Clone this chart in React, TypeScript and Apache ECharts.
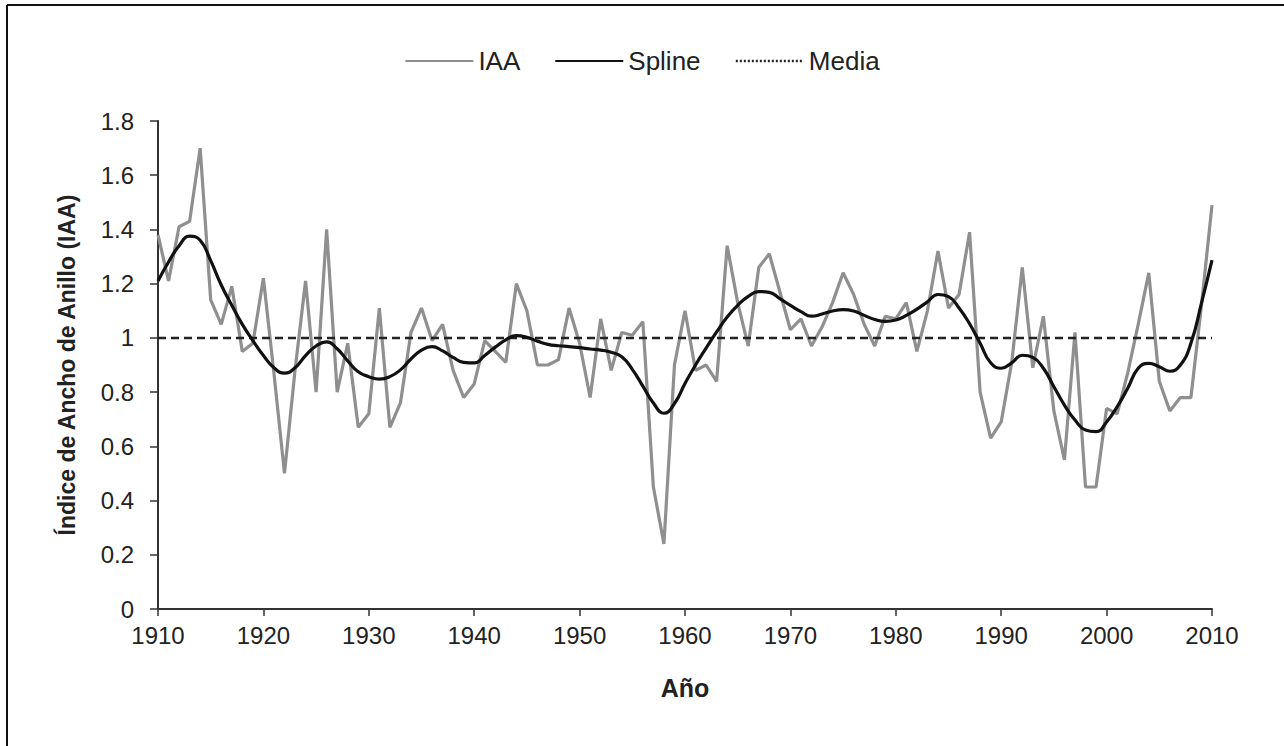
import React, { useEffect, useRef } from "react";
import * as echarts from "echarts";

const START_YEAR = 1910;
const END_YEAR = 2010;
const X_TICKS = [1910, 1920, 1930, 1940, 1950, 1960, 1970, 1980, 1990, 2000, 2010];

const IAA = [
  1.38, 1.21, 1.41, 1.43, 1.70, 1.14, 1.05, 1.19, 0.95, 0.98,
  1.22, 0.87, 0.50, 0.88, 1.21, 0.80, 1.40, 0.80, 0.98, 0.67,
  0.72, 1.11, 0.67, 0.76, 1.02, 1.11, 0.99, 1.05, 0.88, 0.78,
  0.83, 0.99, 0.95, 0.91, 1.20, 1.10, 0.90, 0.90, 0.92, 1.11,
  0.98, 0.78, 1.07, 0.88, 1.02, 1.01, 1.06, 0.45, 0.24, 0.90,
  1.10, 0.88, 0.90, 0.84, 1.34, 1.13, 0.97, 1.26, 1.31, 1.17,
  1.03, 1.07, 0.97, 1.04, 1.13, 1.24, 1.16, 1.05, 0.97, 1.08,
  1.07, 1.13, 0.95, 1.10, 1.32, 1.11, 1.16, 1.39, 0.80, 0.63,
  0.69, 0.91, 1.26, 0.89, 1.08, 0.73, 0.55, 1.02, 0.45, 0.45,
  0.74, 0.72, 0.87, 1.05, 1.24, 0.84, 0.73, 0.78, 0.78, 1.12,
  1.49,
];

const SPLINE = [
  1.21, 1.28, 1.34, 1.375, 1.36, 1.285, 1.195, 1.12, 1.05, 0.99,
  0.935, 0.89, 0.87, 0.89, 0.935, 0.97, 0.985, 0.96, 0.915, 0.875,
  0.857, 0.848, 0.857, 0.882, 0.922, 0.955, 0.968, 0.952, 0.928, 0.91,
  0.908, 0.935, 0.966, 0.993, 1.008, 1.002, 0.988, 0.976, 0.971, 0.968,
  0.964, 0.959, 0.955, 0.947, 0.93, 0.884, 0.822, 0.76, 0.722, 0.758,
  0.832, 0.9, 0.962, 1.022, 1.077, 1.12, 1.153, 1.171, 1.168, 1.145,
  1.12, 1.097, 1.08, 1.088, 1.099, 1.104, 1.099, 1.083, 1.068, 1.061,
  1.066, 1.083, 1.106, 1.133, 1.16, 1.152, 1.11, 1.052, 0.98, 0.908,
  0.888, 0.908, 0.936, 0.928, 0.888, 0.82, 0.752, 0.697, 0.66, 0.654,
  0.69, 0.746, 0.814, 0.888, 0.906, 0.894, 0.877, 0.9, 0.98, 1.128,
  1.287,
];

const MEDIA = 1;

const FONT = "Liberation Sans, Arial, sans-serif";

export default function App() {
  const ref = useRef<HTMLDivElement>(null);

  useEffect(() => {
    document.body.style.margin = "0";
    if (!ref.current) return;
    const chart = echarts.init(ref.current, null, { renderer: "svg" });

    const iaaData = IAA.map((v, i) => [START_YEAR + i, v]);
    const splineData = SPLINE.map((v, i) => [START_YEAR + i, v]);
    const mediaData = [
      [START_YEAR, MEDIA],
      [END_YEAR, MEDIA],
    ];

    chart.setOption({
      animation: false,
      backgroundColor: "#ffffff",
      textStyle: { fontFamily: FONT },
      graphic: [
        {
          type: "line",
          shape: { x1: 7, y1: 5, x2: 1284, y2: 5 },
          style: { stroke: "#111", lineWidth: 2 },
        },
        {
          type: "line",
          shape: { x1: 7, y1: 5, x2: 7, y2: 746 },
          style: { stroke: "#111", lineWidth: 2 },
        },
      ],
      legend: {
        top: 43,
        left: "center",
        itemWidth: 68,
        itemHeight: 14,
        itemGap: 34,
        itemStyle: { opacity: 0 },
        textStyle: { fontSize: 26, color: "#222", fontFamily: FONT },
        data: [
          { name: "IAA", itemStyle: { opacity: 0 } },
          { name: "Spline", itemStyle: { opacity: 0 } },
          { name: "Media", itemStyle: { opacity: 0 }, lineStyle: { type: [2, 2], width: 2.5 } },
        ],
      },
      grid: { left: 158, right: 72, top: 121, bottom: 137 },
      xAxis: {
        type: "value",
        min: START_YEAR,
        max: END_YEAR,
        interval: 10,
        name: "Año",
        nameLocation: "middle",
        nameGap: 66,
        nameTextStyle: { fontSize: 25, fontWeight: "bold", color: "#222", fontFamily: FONT },
        axisLine: { lineStyle: { color: "#333", width: 2 } },
        axisTick: { show: true, length: 7, lineStyle: { color: "#333", width: 1.5 } },
        axisLabel: {
          fontSize: 24,
          color: "#222",
          margin: 14,
          fontFamily: FONT,
          formatter: (v: number) => (X_TICKS.includes(v) ? String(v) : ""),
        },
        splitLine: { show: false },
      },
      yAxis: {
        type: "value",
        min: 0,
        max: 1.8,
        interval: 0.2,
        name: "Índice de Ancho de Anillo (IAA)",
        nameLocation: "middle",
        nameGap: 80,
        nameTextStyle: { fontSize: 23, fontWeight: "bold", color: "#222", fontFamily: FONT },
        axisLine: { show: true, lineStyle: { color: "#333", width: 2 } },
        axisTick: { show: true, length: 8, lineStyle: { color: "#333", width: 1.5 } },
        axisLabel: {
          fontSize: 24,
          color: "#222",
          margin: 24,
          fontFamily: FONT,
          formatter: (v: number) => String(Math.round(v * 10) / 10),
        },
        splitLine: { show: false },
      },
      series: [
        {
          name: "IAA",
          type: "line",
          data: iaaData,
          symbol: "none",
          lineStyle: { color: "#8f8f8f", width: 3.2 },
          itemStyle: { color: "#8f8f8f" },
          z: 2,
        },
        {
          name: "Spline",
          type: "line",
          data: splineData,
          symbol: "none",
          smooth: 0.5,
          lineStyle: { color: "#111", width: 3.2 },
          itemStyle: { color: "#111" },
          z: 4,
        },
        {
          name: "Media",
          type: "line",
          data: mediaData,
          symbol: "none",
          lineStyle: { color: "#222", width: 2.5, type: [8, 5] },
          itemStyle: { color: "#222" },
          z: 3,
        },
      ],
    });

    return () => chart.dispose();
  }, []);

  return <div ref={ref} style={{ width: 1284, height: 746 }} />;
}
